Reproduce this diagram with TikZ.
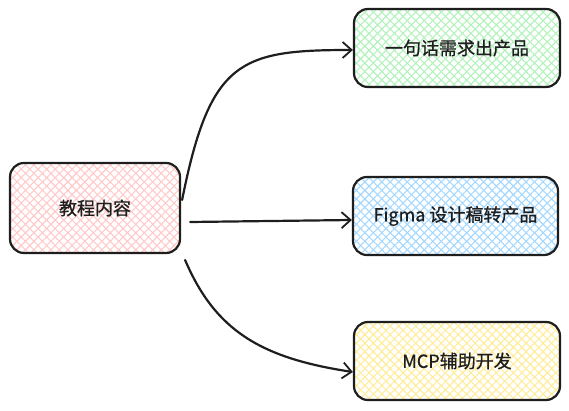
\documentclass[tikz,border=0pt]{standalone}
\usepackage{fontspec}
\newfontfamily\cjk[FakeBold=0.8]{Noto Sans CJK SC}
\usetikzlibrary{arrows.meta,patterns.meta}
\definecolor{cpink}{HTML}{FFC9C9}
\definecolor{cgreen}{HTML}{B2F2BB}
\definecolor{cblue}{HTML}{A5D8FF}
\definecolor{cyellow}{HTML}{FFEC99}
\definecolor{ink}{HTML}{1E1E1E}
\tikzset{
  hatchbox/.style={draw=ink, line width=2.2pt, rounded corners=14pt,
    inner sep=0pt, font=\cjk\fontsize{18}{20}\selectfont, text=ink,
    preaction={pattern={Lines[angle=45,distance=6pt,line width=1.1pt]}, pattern color=#1},
    preaction={pattern={Lines[angle=-45,distance=6pt,line width=1.1pt]}, pattern color=#1}},
  arr/.style={draw=ink, line width=2.2pt, line cap=round,
    -{Straight Barb[length=9pt,width=16pt,line width=1.8pt]}}
}
\begin{document}
\begin{tikzpicture}[x=1pt,y=-1pt]
\useasboundingbox (0,0) rectangle (569,411);
\node[hatchbox=cpink, minimum width=170pt, minimum height=90pt] (src) at (95,208) {教程内容};
\node[hatchbox=cgreen, minimum width=206pt, minimum height=78pt] (t1) at (457,48) {一句话需求出产品};
\node[hatchbox=cblue, minimum width=205pt, minimum height=78pt] (t2) at (455.5,216) {Figma 设计稿转产品};
\node[hatchbox=cyellow, minimum width=206pt, minimum height=78pt] (t3) at (457,361) {MCP辅助开发};
\draw[arr] ([xshift=1pt,yshift=8pt]src.east) .. controls (210,60) and (240,50) .. ([yshift=-2pt]t1.west);
\draw[arr] ([xshift=9pt,yshift=-14pt]src.east) -- ([yshift=-4pt]t2.west);
\draw[arr] ([xshift=4pt,yshift=-52pt]src.east) .. controls (215,330) and (260,358) .. ([yshift=-11pt]t3.west);
\end{tikzpicture}
\end{document}
